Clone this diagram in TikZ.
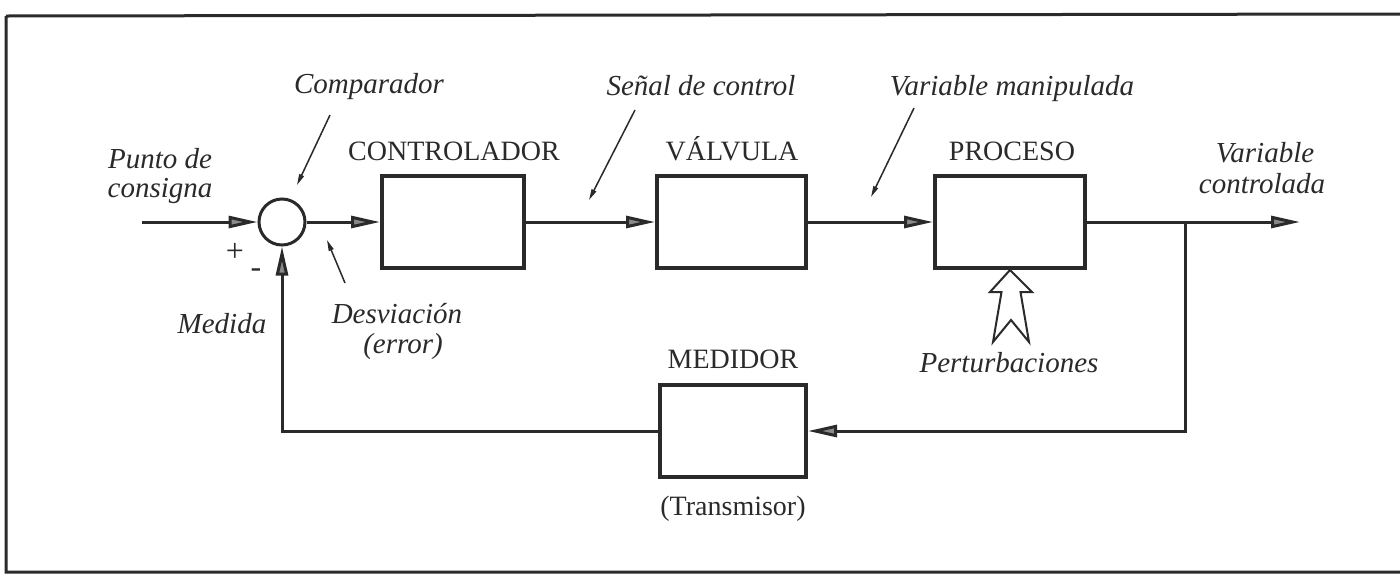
\documentclass[tikz,border=0pt]{standalone}
\usepackage{fontspec}
\setmainfont{Liberation Serif}
\usetikzlibrary{arrows.meta}
\definecolor{ink}{HTML}{2A2A2A}
\definecolor{tipfill}{HTML}{8A8A8A}
\begin{document}
\begin{tikzpicture}[x=1pt,y=-1pt,
  blk/.style={draw=ink,line width=4pt,minimum width=#1,minimum height=92pt,inner sep=0pt},
  sumnode/.style={circle,draw=ink,line width=3pt,minimum size=46pt,inner sep=0pt},
  flow/.style={draw=ink,line width=3pt,-{Triangle[length=29pt,width=12pt,fill=tipfill]}},
  pointer/.style={draw=ink,line width=1.5pt,-{Triangle[length=11pt,width=5pt,fill=ink]}},
  up/.style={font=\fontsize{28}{30}\selectfont,text=ink,anchor=base,inner sep=0pt},
  it/.style={font=\fontsize{29}{31}\selectfont\itshape,text=ink,anchor=base,inner sep=0pt},
  sign/.style={font=\fontsize{32}{34}\selectfont,text=ink,inner sep=0pt}]
\useasboundingbox (0,0) rectangle (1400,582);
\fill[white] (0,0) rectangle (1400,582);
% frame
\draw[ink,line width=3pt] (6,16) -- (1410,14) (6,16) -- (6,572) -- (1410,572);

% blocks
\node[sumnode] (sum) at (282,222) {};
\node[blk=142pt] (ctrl) at (453,222) {};
\node[blk=149pt] (valv) at (731.5,222) {};
\node[blk=150pt] (proc) at (1010,222) {};
\node[blk=146pt] (med) at (733,431) {};

% free ends
\coordinate (in) at (142,222);
\coordinate (out) at (1300,222);
\coordinate (br) at (1185,222);

% main flow
\draw[flow] (in) -- (sum.west);
\draw[flow] (sum.east) -- (ctrl.west);
\draw[flow] (ctrl.east) -- (valv.west);
\draw[flow] (valv.east) -- (proc.west);
\draw[flow] (proc.east) -- (out);
\draw[flow] (br) |- (med.east);
\draw[flow] (med.west) -| (sum.south);

% labels
\node[up] (lctrl) at (454,160) {CONTROLADOR};
\node[up] (lvalv) at (732,160) {VÁLVULA};
\node[up] (lproc) at (1012,160) {PROCESO};
\node[up] (lmed) at (733,368) {MEDIDOR};
\node[up] (ltrans) at (733,515) {(Transmisor)};

\node[it] (lpunto) at (160,168) {Punto de};
\node[it] (lcons) at (160,197) {consigna};
\node[it] (lcomp) at (369,93) {Comparador};
\node[it] (lsenal) at (701,95) {Señal de control};
\node[it] (lvman) at (1012,95) {Variable manipulada};
\node[it] (lvar) at (1265,162) {Variable};
\node[it] (lcontr) at (1262,193) {controlada};
\node[it] (lmedida) at (222,333) {Medida};
\node[it] (ldesv) at (397,323) {Desviación};
\node[it] (lerr) at (403,353) {(error)};
\node[it] (lpert) at (1009,372) {Perturbaciones};

\node[sign] (plus) at (235,252) {+};
\node[sign] (minus) at (256,273) {-};

% pointer arrows
\coordinate (compA) at (330,115);
\coordinate (compB) at (297,185);
\coordinate (senA) at (635,110);
\coordinate (senB) at (589,200);
\coordinate (vmA) at (914,108);
\coordinate (vmB) at (871,197);
\coordinate (desA) at (345,283);
\coordinate (desB) at (327,240);
\draw[pointer] (compA) -- (compB);
\draw[pointer] (senA) -- (senB);
\draw[pointer] (vmA) -- (vmB);
\draw[pointer] (desA) -- (desB);

% disturbance hollow arrow
\draw[ink,line width=2pt,line join=miter,fill=white]
  (proc.south) -- (990,292) -- (1001.5,292) -- (993,342) -- (1011,320)
  -- (1029,342) -- (1020.5,292) -- (1032,292) -- cycle;
\end{tikzpicture}
\end{document}
